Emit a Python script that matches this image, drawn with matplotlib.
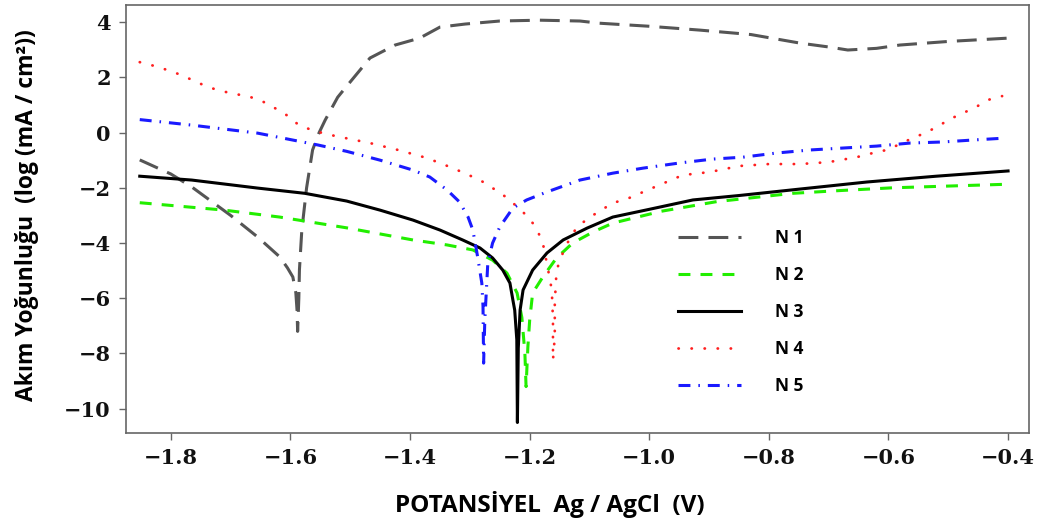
import matplotlib
matplotlib.use("Agg")
import matplotlib.pyplot as plt

# potentiodynamic polarisation curves
n1_x = [-1.852, -1.80, -1.765, -1.70, -1.655, -1.618, -1.605, -1.596, -1.591, -1.589,
        -1.588, -1.586, -1.585, -1.581, -1.573, -1.563, -1.552, -1.542, -1.521, -1.509,
        -1.467, -1.425, -1.384, -1.35, -1.308, -1.25, -1.183, -1.116, -1.083, -1.0,
        -0.915, -0.83, -0.748, -0.70, -0.668, -0.62, -0.581, -0.50, -0.40]
n1_y = [-0.99, -1.5, -1.97, -3.0, -3.78, -4.5, -4.9, -5.23, -5.8, -6.43,
        -7.2, -6.0, -4.98, -3.53, -2.0, -0.63, 0.0, 0.45, 1.28, 1.6,
        2.7, 3.17, 3.42, 3.82, 3.93, 4.04, 4.07, 4.04, 3.96, 3.85,
        3.71, 3.55, 3.24, 3.1, 2.99, 3.05, 3.17, 3.3, 3.42]

n2_x = [-1.852, -1.71, -1.618, -1.506, -1.395, -1.338, -1.295, -1.262, -1.238, -1.221,
        -1.213, -1.208, -1.206, -1.203, -1.2, -1.195, -1.178, -1.155, -1.128, -1.094,
        -1.061, -0.98, -0.887, -0.76, -0.681, -0.593, -0.40]
n2_y = [-2.54, -2.81, -3.06, -3.45, -3.89, -4.07, -4.25, -4.62, -5.09, -5.81,
        -6.7, -7.98, -9.2, -7.77, -6.8, -5.81, -5.23, -4.54, -4.0, -3.6,
        -3.28, -2.85, -2.5, -2.2, -2.1, -2.0, -1.87]

n3_x = [-1.852, -1.765, -1.655, -1.576, -1.506, -1.45, -1.395, -1.35, -1.312, -1.283,
        -1.262, -1.245, -1.233, -1.228, -1.225, -1.2215, -1.2205, -1.219, -1.216, -1.211,
        -1.195, -1.171, -1.144, -1.104, -1.061, -1.0, -0.927, -0.85, -0.75, -0.636,
        -0.52, -0.40]
n3_y = [-1.58, -1.72, -2.01, -2.2, -2.48, -2.81, -3.17, -3.53, -3.89, -4.18,
        -4.54, -4.98, -5.45, -6.07, -6.43, -7.5, -10.5, -7.8, -6.43, -5.7,
        -4.98, -4.36, -3.89, -3.46, -3.06, -2.78, -2.44, -2.28, -2.05, -1.79,
        -1.58, -1.39]

n4_x = [-1.852, -1.827, -1.805, -1.782, -1.76, -1.738, -1.715, -1.69, -1.666, -1.644,
        -1.623, -1.604, -1.586, -1.564, -1.541, -1.517, -1.467, -1.42, -1.372, -1.328,
        -1.283, -1.246, -1.228, -1.211, -1.196, -1.186, -1.178, -1.17, -1.163, -1.161,
        -1.161, -1.158, -1.158, -1.155, -1.141, -1.121, -1.099, -1.061, -1.037, -0.994,
        -0.944, -0.899, -0.849, -0.80, -0.748, -0.70, -0.653, -0.626, -0.603, -0.581,
        -0.56, -0.539, -0.517, -0.497, -0.476, -0.454, -0.434, -0.41]
n4_y = [2.55, 2.41, 2.26, 2.08, 1.86, 1.65, 1.5, 1.39, 1.28, 1.1,
        0.85, 0.6, 0.27, 0.09, -0.05, -0.16, -0.38, -0.63, -0.92, -1.29,
        -1.72, -2.23, -2.55, -2.88, -3.24, -3.6, -4.0, -4.87, -5.7, -6.8,
        -8.24, -7.4, -6.17, -4.98, -4.15, -3.42, -3.06, -2.55, -2.4, -2.0,
        -1.54, -1.43, -1.21, -1.14, -1.14, -1.07, -0.89, -0.74, -0.63, -0.42,
        -0.2, -0.02, 0.23, 0.49, 0.7, 0.92, 1.18, 1.32]

n5_x = [-1.852, -1.765, -1.655, -1.554, -1.506, -1.45, -1.395, -1.367, -1.338, -1.317,
        -1.303, -1.295, -1.287, -1.28, -1.278, -1.277, -1.275, -1.27, -1.262, -1.25,
        -1.228, -1.205, -1.171, -1.116, -1.061, -1.011, -0.949, -0.894, -0.843, -0.787,
        -0.731, -0.676, -0.62, -0.564, -0.509, -0.459, -0.405]
n5_y = [0.47, 0.27, -0.02, -0.45, -0.68, -1.0, -1.36, -1.61, -2.08, -2.52,
        -3.06, -3.53, -4.5, -5.45, -6.3, -8.35, -6.8, -4.73, -4.0, -3.42,
        -2.73, -2.44, -2.15, -1.72, -1.47, -1.29, -1.1, -0.96, -0.89, -0.74,
        -0.63, -0.56, -0.49, -0.38, -0.34, -0.27, -0.2]

labels = ["N 1", "N 2", "N 3", "N 4", "N 5"]
x_ticks = [-1.8, -1.6, -1.4, -1.2, -1.0, -0.8, -0.6, -0.4]
y_ticks = [4, 2, 0, -2, -4, -6, -8, -10]

fig = plt.figure(figsize=(10.44, 5.25), dpi=100)
ax = fig.add_axes([126/1044, 1 - 433/525, 903/1044, 428/525])

lw = 2.2
ax.plot(n1_x, n1_y, color="#555555", lw=lw, dashes=(6.5, 3.3), label=labels[0])
ax.plot(n2_x, n2_y, color="#22ee00", lw=lw, dashes=(3.9, 3.3), label=labels[1])
ax.plot(n3_x, n3_y, color="black", lw=lw, label=labels[2])
ax.plot(n4_x, n4_y, color="#ff2020", lw=2.0, dashes=(0.1, 4.6),
        dash_capstyle="round", label=labels[3])
ax.plot(n5_x, n5_y, color="#1a1aff", lw=lw, dashes=(3.9, 2.6, 0.5, 2.6), label=labels[4])

ax.set_xlim(-1.875, -0.365)
ax.set_ylim(-10.88, 4.62)
ax.set_xticks(x_ticks)
ax.set_yticks(y_ticks)
ax.set_xticklabels(["\u2212%.1f" % abs(v) for v in x_ticks])
ax.set_yticklabels([("\u2212%d" % abs(v)) if v < 0 else "%d" % v for v in y_ticks])

for s in ax.spines.values():
    s.set_color("#666666")
    s.set_linewidth(1.2)
ax.tick_params(direction="out", length=5, width=1, color="#666666", pad=6)
for t in ax.get_xticklabels() + ax.get_yticklabels():
    t.set_fontfamily("DejaVu Serif")
    t.set_fontweight("bold")
    t.set_fontsize(15)
    t.set_color("#111111")

lab_font = ["Open Sans", "DejaVu Sans"]
fig.text(550/1044, 1 - 505/525, "POTANSİYEL  Ag / AgCl  (V)", ha="center", va="center",
         fontsize=17.5, fontweight="bold", family=lab_font)
fig.text(27/1044, 1 - 215/525, "Akım Yoğunluğu  (log (mA / cm²))", ha="center", va="center",
         rotation=90, fontsize=16.5, fontweight="bold", family=lab_font)

ax.legend(loc="upper left", bbox_to_anchor=((678-126)/903, (433-229)/428), frameon=False,
          borderpad=0, borderaxespad=0, handlelength=3.6, handletextpad=2.0,
          labelspacing=1.1, prop={"family": lab_font, "weight": "bold", "size": 12.5})

fig.savefig("out.png", dpi=100)
